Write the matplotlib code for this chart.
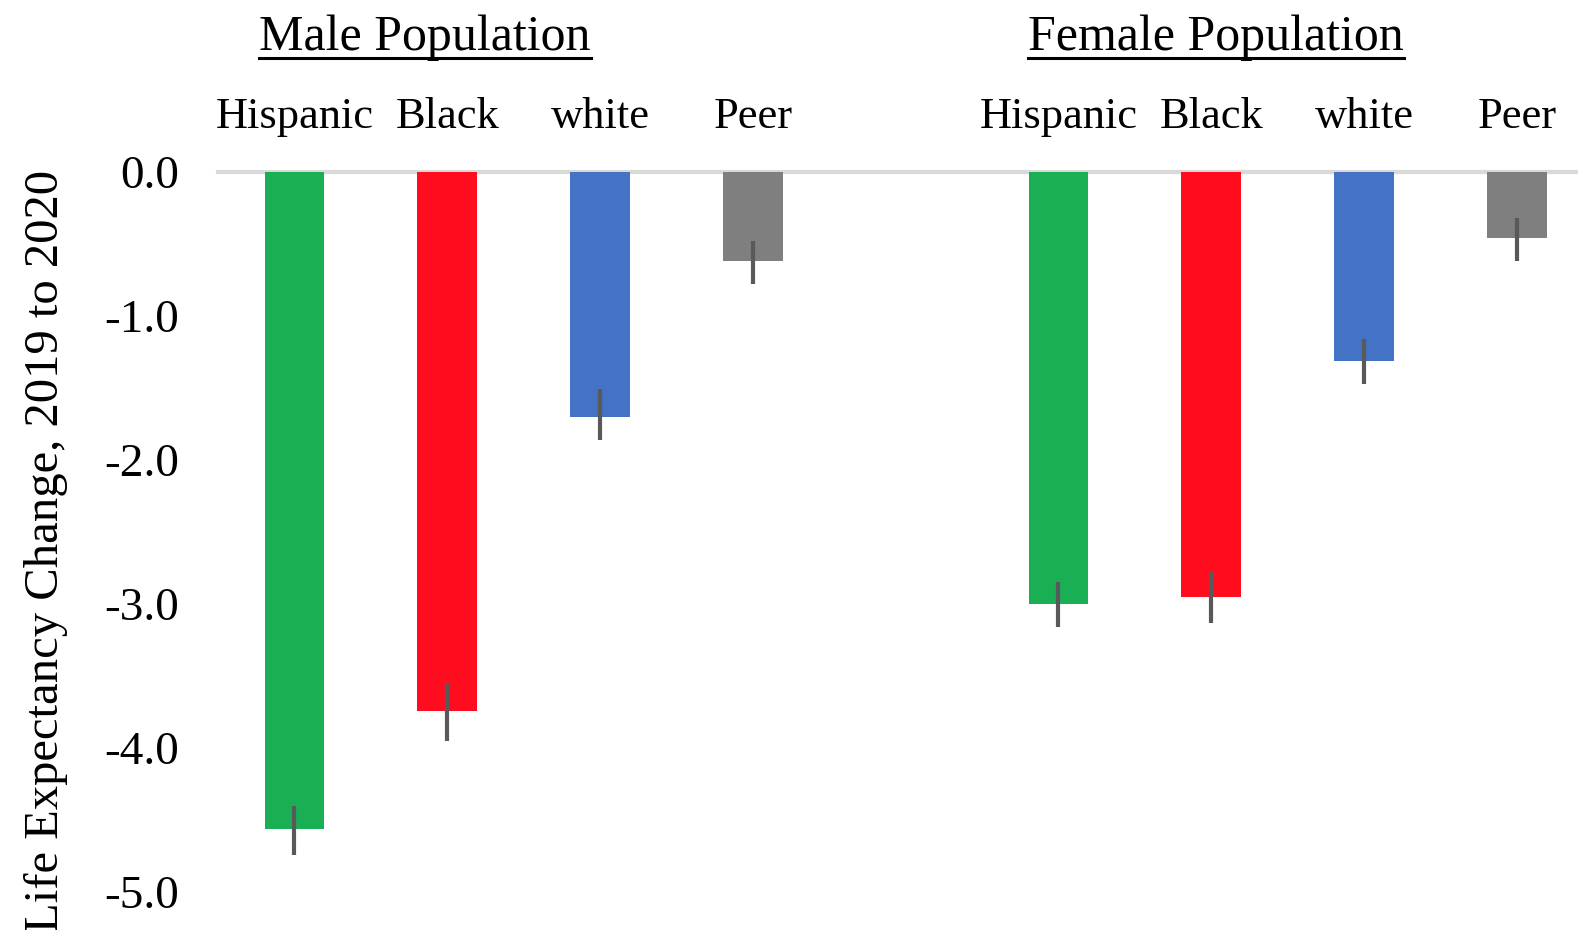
import numpy as np
import matplotlib.pyplot as plt
from matplotlib.transforms import blended_transform_factory

# Data
groups = ["Male Population", "Female Population"]
categories = ["Hispanic", "Black", "white", "Peer"]
male_change = [-4.56, -3.74, -1.70, -0.62]
female_change = [-3.00, -2.95, -1.31, -0.46]
male_err_low = [0.18, 0.21, 0.16, 0.16]
male_err_high = [0.16, 0.19, 0.19, 0.14]
female_err_low = [0.16, 0.18, 0.16, 0.16]
female_err_high = [0.15, 0.17, 0.15, 0.14]
yticks = [0.0, -1.0, -2.0, -3.0, -4.0, -5.0]
ylabel = "Life Expectancy Change, 2019 to 2020"

colors = ["#1AAF54", "#FF0D1F", "#4472C4", "#7F7F7F"]

plt.rcParams["font.family"] = ["Liberation Serif", "DejaVu Serif"]

W, H = 1578, 930
fig = plt.figure(figsize=(W / 100, H / 100), dpi=100)
ax = fig.add_axes([218 / W, 0, 1 - 218 / W, 1 - 172 / H])

x_male = np.arange(4)
x_female = np.arange(4) + 5
x_all = np.concatenate([x_male, x_female])
values = male_change + female_change
err = [male_err_low + female_err_low, male_err_high + female_err_high]

ax.bar(x_all, values, width=0.39, color=colors * 2, zorder=2)
ax.errorbar(x_all, values, yerr=err, fmt="none", ecolor="#595959",
            elinewidth=3, capsize=0, zorder=3)

ax.axhline(0, color="#D9D9D9", linewidth=3, zorder=1, clip_on=False)

ax.set_xlim(-0.5, (W - 294.5) / 152.8)
ax.set_ylim(-(H - 172) / 144, 0)
ax.set_yticks(yticks)
ax.set_yticklabels([f"{t:.1f}" for t in yticks], fontsize=34)
ax.tick_params(axis="y", length=0, pad=28)
ax.set_xticks([])
for s in ax.spines.values():
    s.set_visible(False)

ax.set_ylabel(ylabel, fontsize=35, labelpad=26)

trans = blended_transform_factory(ax.transData, fig.transFigure)

# category labels above bars
for xi, name in zip(x_all, categories * 2):
    ax.text(xi, 1 - 128 / H, name, transform=trans, ha="center",
            va="baseline", fontsize=32, clip_on=False)

# underlined group titles
title_x = [0.854, 6.03]
fig.canvas.draw()
renderer = fig.canvas.get_renderer()
for gx, g in zip(title_x, groups):
    t = ax.text(gx, 1 - 50 / H, g, transform=trans, ha="center",
                va="baseline", fontsize=36, clip_on=False)
    bb = t.get_window_extent(renderer=renderer)
    x0, x1 = bb.x0 / W, bb.x1 / W
    fig.add_artist(plt.Line2D([x0, x1], [1 - 58 / H, 1 - 58 / H],
                              color="black", linewidth=2.2,
                              transform=fig.transFigure))

fig.savefig("out.png", dpi=100)
